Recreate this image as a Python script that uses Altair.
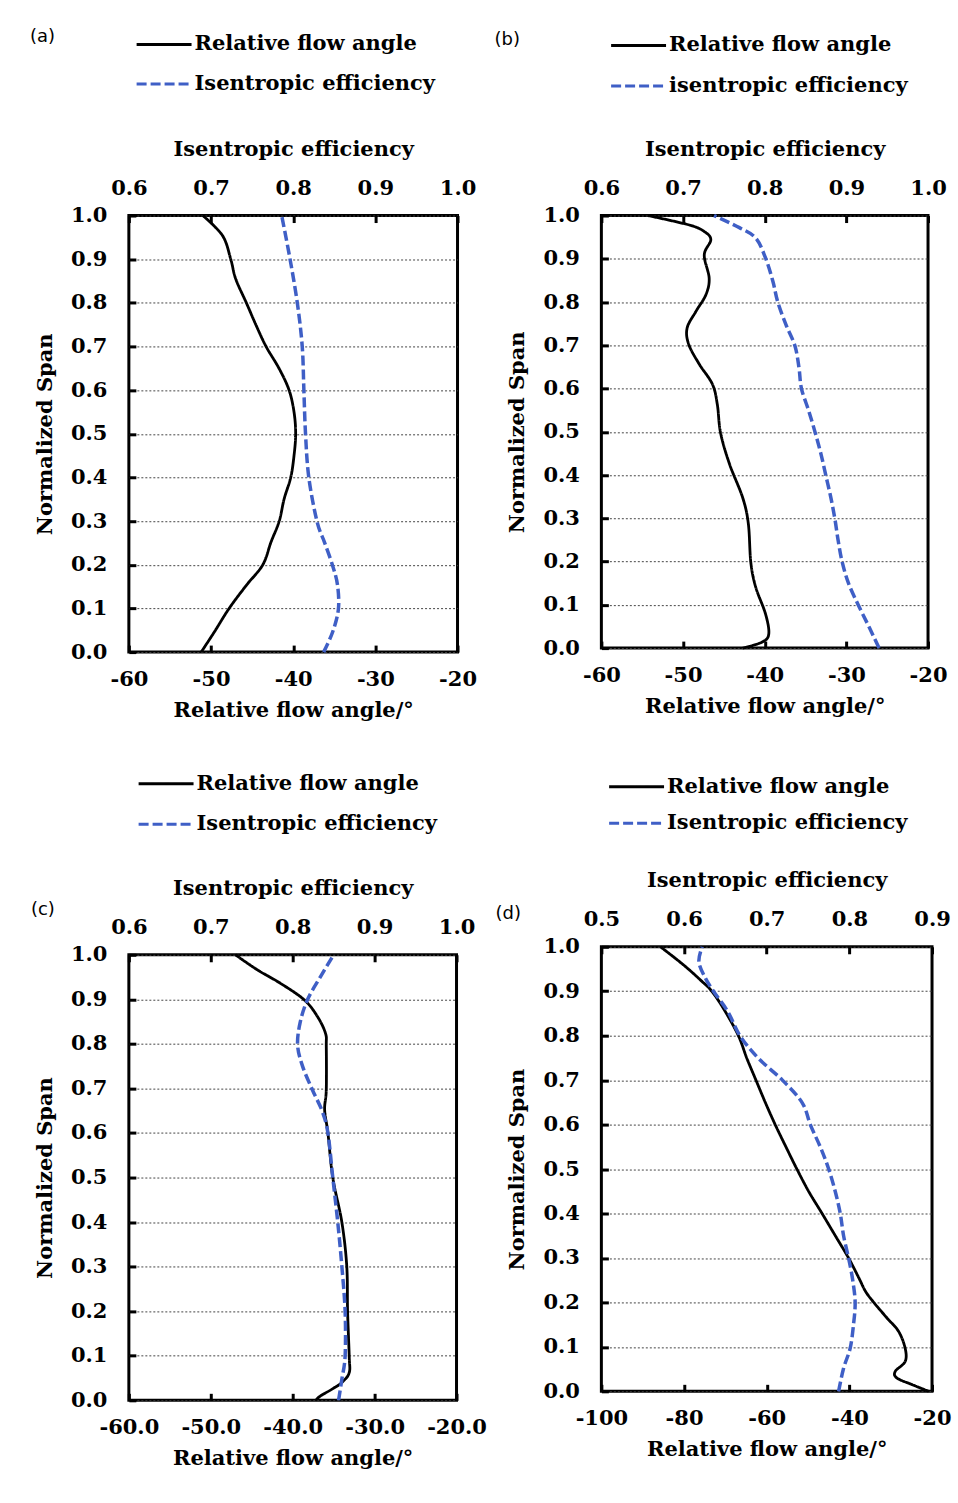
import altair as alt
import pandas as pd

SERIF = "DejaVu Serif"
SANS = "DejaVu Sans"
BLUE = "#3F5FC6"
FS = 21

# ---------------- Panel (a) ----------------
a_names = ["Relative flow angle", "Isentropic efficiency"]
a_ang_span = [1.0, 0.954, 0.9, 0.855, 0.8, 0.748, 0.7, 0.649, 0.6, 0.55, 0.5,
              0.45, 0.4, 0.351, 0.3, 0.252, 0.2, 0.153, 0.1, 0.046, 0.0]
a_ang = [-51.0, -48.6, -47.6, -47.0, -45.7, -44.5, -43.3, -41.7, -40.5, -39.9, -39.7,
         -39.9, -40.3, -41.1, -41.7, -42.7, -43.7, -45.7, -47.8, -49.6, -51.2]
a_eff_span = [1.0, 0.902, 0.8, 0.7, 0.6, 0.5, 0.4, 0.299, 0.252, 0.198, 0.153, 0.098, 0.046, 0.0]
a_eff = [0.786, 0.796, 0.805, 0.811, 0.813, 0.815, 0.819, 0.829, 0.838, 0.848, 0.854, 0.855, 0.848, 0.837]

# ---------------- Panel (b) ----------------
b_names = ["Relative flow angle", "isentropic efficiency"]
b_ang_span = [1.0, 0.978, 0.963, 0.944, 0.909, 0.855, 0.817, 0.779, 0.740, 0.702, 0.656,
              0.610, 0.563, 0.497, 0.425, 0.348, 0.287, 0.198, 0.141, 0.079, 0.033, 0.014, 0.0]
b_ang = [-54.3, -49.2, -47.4, -46.6, -47.4, -46.8, -47.2, -48.4, -49.5, -49.3, -48.0,
         -46.4, -45.8, -45.4, -44.3, -42.7, -42.0, -41.7, -41.1, -39.9, -39.5, -40.3, -42.7]
b_eff_span = [1.0, 0.972, 0.948, 0.902, 0.848, 0.8, 0.748, 0.699, 0.648, 0.6, 0.548,
              0.497, 0.448, 0.398, 0.348, 0.298, 0.248, 0.198, 0.148, 0.098, 0.048, 0.0]
b_eff = [0.738, 0.769, 0.789, 0.801, 0.810, 0.816, 0.826, 0.837, 0.842, 0.845, 0.854,
         0.862, 0.869, 0.875, 0.881, 0.886, 0.890, 0.895, 0.903, 0.915, 0.928, 0.940]

# ---------------- Panel (c) ----------------
c_names = ["Relative flow angle", "Isentropic efficiency"]
c_ang_span = [1.0, 0.966, 0.936, 0.899, 0.862, 0.824, 0.794, 0.697, 0.652, 0.600, 0.499,
              0.4, 0.301, 0.2, 0.099, 0.062, 0.040, 0.025, 0.01, 0.0]
c_ang = [-47.0, -44.3, -41.5, -38.6, -37.0, -36.0, -35.9, -35.9, -36.1, -35.7, -35.1,
         -34.0, -33.4, -33.3, -33.1, -33.1, -34.0, -35.2, -36.6, -37.2]
c_eff_span = [1.0, 0.951, 0.899, 0.847, 0.797, 0.75, 0.697, 0.649, 0.6, 0.499, 0.4,
              0.301, 0.2, 0.099, 0.047, 0.0]
c_eff = [0.850, 0.834, 0.818, 0.809, 0.806, 0.812, 0.824, 0.836, 0.843, 0.849, 0.855,
         0.860, 0.864, 0.864, 0.860, 0.856]

# ---------------- Panel (d) ----------------
d_names = ["Relative flow angle", "Isentropic efficiency"]
d_ang_span = [1.0, 0.959, 0.925, 0.899, 0.854, 0.799, 0.749, 0.7, 0.649, 0.599, 0.549,
              0.5, 0.449, 0.4, 0.35, 0.3, 0.255, 0.225, 0.2, 0.165, 0.135, 0.097, 0.067,
              0.045, 0.03, 0.015, 0.0]
d_ang = [-85.7, -80.1, -76.0, -73.2, -70.0, -66.8, -64.8, -62.6, -60.3, -57.9, -55.3,
         -52.7, -49.8, -46.6, -43.4, -40.2, -37.7, -36.1, -34.1, -30.9, -28.1, -26.5, -26.5,
         -28.9, -28.5, -24.8, -20.8]
d_eff_span = [1.0, 0.966, 0.929, 0.899, 0.854, 0.799, 0.749, 0.7, 0.649, 0.599, 0.549,
              0.5, 0.449, 0.4, 0.35, 0.3, 0.251, 0.2, 0.15, 0.097, 0.052, 0.0]
d_eff = [0.622, 0.618, 0.626, 0.636, 0.653, 0.668, 0.690, 0.719, 0.743, 0.753, 0.765,
         0.775, 0.783, 0.789, 0.793, 0.799, 0.804, 0.807, 0.805, 0.801, 0.793, 0.787]

span_ticks = [round(i * 0.1, 1) for i in range(11)]
HYPHEN = "replace(datum.label, '\u2212', '-')"


def panel(label, names, ang_span, ang, eff_span, eff, xdom, xticks, xfmt, edom, eticks,
          w, h, lx, ly, lrow, tdx, tdy):
    df_ang = pd.DataFrame({"series": names[0], "span": ang_span, "value": ang})
    df_eff = pd.DataFrame({"series": names[1], "span": eff_span, "value": eff})

    legend = alt.Legend(
        title=None, orient="none", legendX=lx, legendY=ly,
        symbolType="M-2,0H2", symbolSize=756, symbolStrokeWidth=3,
        labelFont=SERIF, labelFontWeight="bold", labelFontSize=FS, labelColor="black",
        labelOffset=15, rowPadding=lrow, padding=0, labelLimit=400,
    )
    color = alt.Color("series:N", scale=alt.Scale(domain=names, range=["black", BLUE]),
                      legend=legend)
    dash = alt.StrokeDash("series:N", scale=alt.Scale(domain=names, range=[[1, 0], [10, 4]]),
                          legend=legend)
    y = alt.Y("span:Q", scale=alt.Scale(domain=[0, 1], nice=False, zero=False),
              axis=alt.Axis(title="Normalized Span", values=span_ticks, format=".1f",
                            grid=True, gridDash=[2, 2], gridColor="#444", gridWidth=1,
                            domain=False, tickSize=7, tickWidth=3, tickColor="black",
                            offset=-7, labelPadding=22, titlePadding=15,
                            labelFlush=False, labelOverlap=False))

    l1 = alt.Chart(df_ang).mark_line(strokeWidth=2.8, interpolate="cardinal").encode(
        x=alt.X("value:Q", scale=alt.Scale(domain=xdom, nice=False, zero=False),
                axis=alt.Axis(orient="bottom", values=xticks, format=xfmt, labelExpr=HYPHEN,
                              title="Relative flow angle/°", grid=False, domain=False,
                              tickSize=7, tickWidth=3, tickColor="black", offset=-7,
                              labelPadding=16, titlePadding=10,
                              labelFlush=False, labelOverlap=False)),
        y=y, color=color, strokeDash=dash, order="span:Q",
    )
    l2 = alt.Chart(df_eff).mark_line(strokeWidth=3.5, interpolate="cardinal").encode(
        x=alt.X("value:Q", scale=alt.Scale(domain=edom, nice=False, zero=False),
                axis=alt.Axis(orient="top", values=eticks, format=".1f",
                              title="Isentropic efficiency", grid=False, domain=False,
                              tickSize=7, tickWidth=3, tickColor="black", offset=-7,
                              labelPadding=17, titlePadding=18,
                              labelFlush=False, labelOverlap=False)),
        y=y, color=color, strokeDash=dash, order="span:Q",
    )
    return alt.layer(l1, l2).resolve_scale(x="independent").properties(
        width=w, height=h,
        title=alt.TitleParams(label, anchor="start", frame="group", dx=tdx, dy=tdy,
                              font=SANS, fontSize=18, fontWeight="normal", color="black"),
    )


pa = panel("(a)", a_names, a_ang_span, a_ang, a_eff_span, a_eff,
           [-60, -20], [-60, -50, -40, -30, -20], "d", [0.6, 1.0], [0.6, 0.7, 0.8, 0.9, 1.0],
           329, 437, 19.75, -186.75, 13.5, -99, 21)
pb = panel("(b)", b_names, b_ang_span, b_ang, b_eff_span, b_eff,
           [-60, -20], [-60, -50, -40, -30, -20], "d", [0.6, 1.0], [0.6, 0.7, 0.8, 0.9, 1.0],
           327, 433, 21.75, -185.75, 14.5, -107, 23)
pc = panel("(c)", c_names, c_ang_span, c_ang, c_eff_span, c_eff,
           [-60, -20], [-60, -50, -40, -30, -20], ".1f", [0.6, 1.0], [0.6, 0.7, 0.8, 0.9, 1.0],
           328, 446, 21.75, -186.75, 14.5, -98, 155)
pd_ = panel("(d)", d_names, d_ang_span, d_ang, d_eff_span, d_eff,
            [-100, -20], [-100, -80, -60, -40, -20], "d", [0.5, 0.9], [0.5, 0.6, 0.7, 0.8, 0.9],
            331, 445, 19.75, -175.75, 10.5, -106, 156)

res = dict(x="independent", y="independent", color="independent", strokeDash="independent")
col1 = alt.vconcat(pa, pc, spacing=44).resolve_scale(**res)
col2 = alt.vconcat(pb, pd_, spacing=51).resolve_scale(**res)

chart = alt.hconcat(col1, col2, spacing=4).resolve_scale(**res).properties(
    padding={"left": 28, "top": 25, "right": 5, "bottom": 5},
    background="white",
).configure_view(stroke="black", strokeWidth=3).configure_axis(
    labelFont=SERIF, labelFontWeight="bold", labelFontSize=FS, labelColor="black",
    titleFont=SERIF, titleFontWeight="bold", titleFontSize=FS, titleColor="black",
)

chart.save("out.html", embed_options={"renderer": "svg", "actions": False})
